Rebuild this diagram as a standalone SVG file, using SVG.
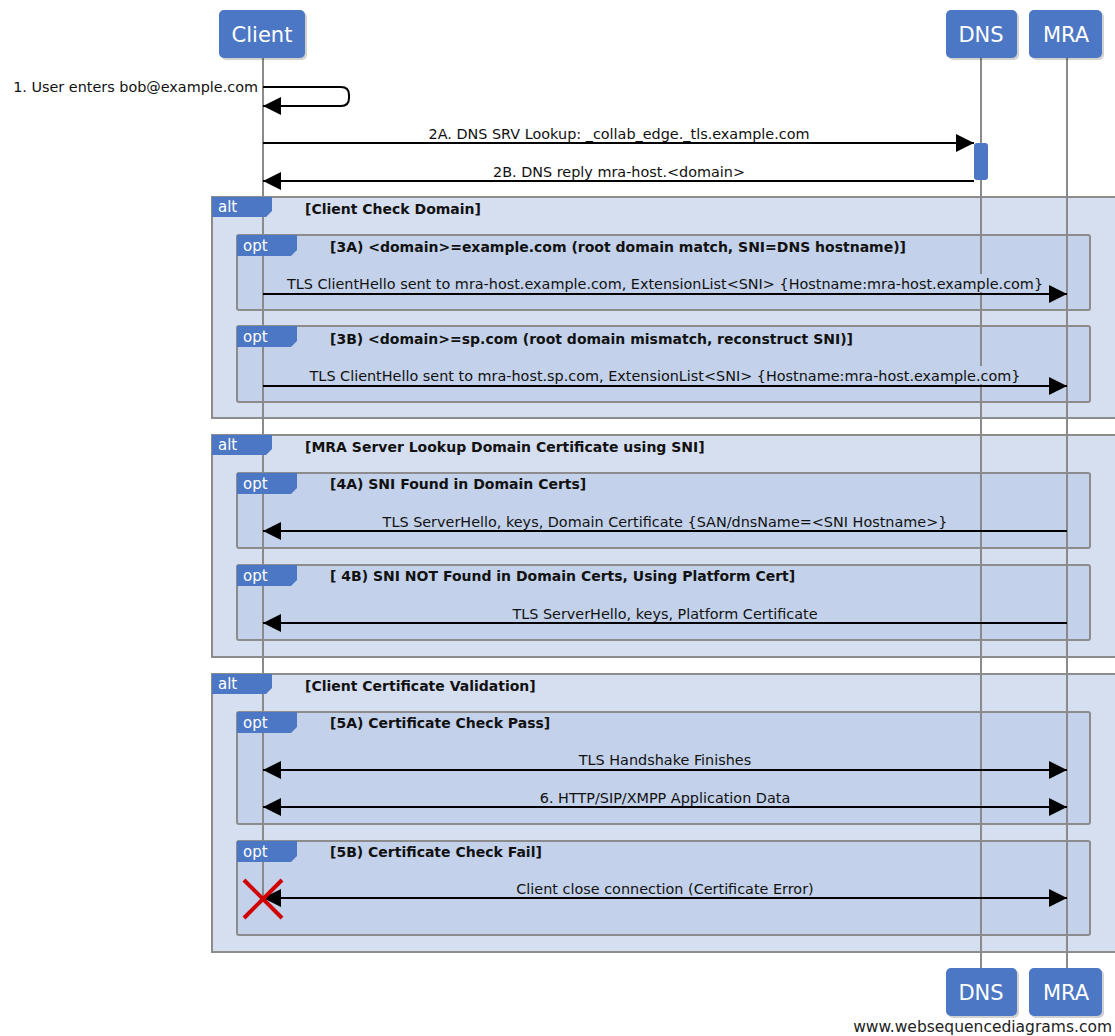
<svg xmlns="http://www.w3.org/2000/svg" width="1115" height="1036" viewBox="0 0 1115 1036">
<defs>
<style>
.pbox{fill:#4c77c4;}
.pshadow{fill:#000;opacity:0.18;}
.ptxt{font-family:"DejaVu Sans",sans-serif;font-size:21px;fill:#fff;text-anchor:middle;}
.life{stroke:#8a8a8a;stroke-width:2;fill:none;}
.alt{fill:#d6dff0;stroke:#8c8c8c;stroke-width:2;}
.opt{fill:#c3d2ea;stroke:#8c8c8c;stroke-width:2;}
.tab{fill:#4c77c4;}
.tabtxt{font-family:"DejaVu Sans",sans-serif;font-size:15px;fill:#fff;}
.guard{font-family:"DejaVu Sans",sans-serif;font-size:14px;font-weight:bold;fill:#111;}
.msg{font-family:"DejaVu Sans",sans-serif;font-size:14.4px;fill:#111;text-anchor:middle;}
.line{stroke:#000;stroke-width:2;fill:none;}
.wm{font-family:"DejaVu Sans",sans-serif;font-size:15.5px;fill:#222;}
</style>
<marker id="ah" markerUnits="userSpaceOnUse" markerWidth="18" markerHeight="18" refX="16" refY="8" orient="auto-start-reverse" viewBox="0 0 16 16">
<path d="M0,0 L16,8 L0,16 Z" fill="#000"/>
</marker>
</defs>

<!-- frames -->
<g id="frames">
<rect class="alt" x="212" y="197" width="910" height="221"/>
<rect class="opt" x="237" y="235" width="853" height="75" rx="2"/>
<rect class="opt" x="237" y="326" width="853" height="76" rx="2"/>
<rect class="alt" x="212" y="435" width="910" height="222"/>
<rect class="opt" x="237" y="473" width="853" height="75" rx="2"/>
<rect class="opt" x="237" y="565" width="853" height="75" rx="2"/>
<rect class="alt" x="212" y="674" width="910" height="278"/>
<rect class="opt" x="237" y="712" width="853" height="112" rx="2"/>
<rect class="opt" x="237" y="841" width="853" height="94" rx="2"/>
</g>

<!-- lifelines -->
<g id="lifelines">
<line class="life" x1="263" y1="58" x2="263" y2="898"/>
<line class="life" x1="981" y1="58" x2="981" y2="968"/>
<line class="life" x1="1067" y1="58" x2="1067" y2="968"/>
</g>

<!-- frame tabs and guards -->
<g id="tabs">
<path class="tab" d="M212,197 H272 V211 L266,217 H212 Z"/>
<text class="tabtxt" x="218" y="212">alt</text>
<text class="guard" x="305" y="214">[Client Check Domain]</text>
<path class="tab" d="M237,235 H297 V250 L291,256 H237 Z"/>
<text class="tabtxt" x="243" y="251">opt</text>
<text class="guard" x="330" y="252">[3A) &lt;domain&gt;=example.com (root domain match, SNI=DNS hostname)]</text>
<path class="tab" d="M237,326 H297 V341 L291,347 H237 Z"/>
<text class="tabtxt" x="243" y="342">opt</text>
<text class="guard" x="330" y="344">[3B) &lt;domain&gt;=sp.com (root domain mismatch, reconstruct SNI)]</text>

<path class="tab" d="M212,435 H272 V449 L266,455 H212 Z"/>
<text class="tabtxt" x="218" y="450">alt</text>
<text class="guard" x="305" y="452">[MRA Server Lookup Domain Certificate using SNI]</text>
<path class="tab" d="M237,473 H297 V488 L291,494 H237 Z"/>
<text class="tabtxt" x="243" y="489">opt</text>
<text class="guard" x="330" y="489">[4A) SNI Found in Domain Certs]</text>
<path class="tab" d="M237,565 H297 V580 L291,586 H237 Z"/>
<text class="tabtxt" x="243" y="581">opt</text>
<text class="guard" x="330" y="581">[ 4B) SNI NOT Found in Domain Certs, Using Platform Cert]</text>

<path class="tab" d="M212,674 H272 V688 L266,694 H212 Z"/>
<text class="tabtxt" x="218" y="689">alt</text>
<text class="guard" x="305" y="691">[Client Certificate Validation]</text>
<path class="tab" d="M237,712 H297 V727 L291,733 H237 Z"/>
<text class="tabtxt" x="243" y="728">opt</text>
<text class="guard" x="330" y="728">[5A) Certificate Check Pass]</text>
<path class="tab" d="M237,841 H297 V856 L291,862 H237 Z"/>
<text class="tabtxt" x="243" y="857">opt</text>
<text class="guard" x="330" y="857">[5B) Certificate Check Fail]</text>
</g>

<!-- participants -->
<g id="client">
<rect class="pshadow" x="221" y="12" width="86" height="48" rx="5"/>
<rect class="pbox" x="219" y="10" width="86" height="48" rx="5"/>
<text class="ptxt" x="262" y="42">Client</text>
</g>
<g id="dns">
<rect class="pshadow" x="948" y="12" width="71" height="48" rx="5"/>
<rect class="pbox" x="946" y="10" width="71" height="48" rx="5"/>
<text class="ptxt" x="981" y="42">DNS</text>
</g>
<g id="mra">
<rect class="pshadow" x="1031" y="12" width="73" height="48" rx="5"/>
<rect class="pbox" x="1029" y="10" width="73" height="48" rx="5"/>
<text class="ptxt" x="1066" y="42">MRA</text>
</g>
<g id="dns-bottom">
<rect class="pshadow" x="948" y="970" width="71" height="48" rx="5"/>
<rect class="pbox" x="946" y="968" width="71" height="48" rx="5"/>
<text class="ptxt" x="981" y="1000">DNS</text>
</g>
<g id="mra-bottom">
<rect class="pshadow" x="1031" y="970" width="73" height="48" rx="5"/>
<rect class="pbox" x="1029" y="968" width="73" height="48" rx="5"/>
<text class="ptxt" x="1066" y="1000">MRA</text>
</g>
<g id="dns-activation">
<rect x="974" y="143" width="14" height="37" rx="3" fill="#4c77c4"/>
</g>

<!-- connectors -->
<g id="connectors">
<text class="msg" x="258" y="92" style="text-anchor:end">1. User enters bob@example.com</text>
<path class="line" d="M263,87 H341 Q349,87 349,95 V98 Q349,106 341,106 H263" marker-end="url(#ah)"/>

<text class="msg" x="619" y="139">2A. DNS SRV Lookup: _collab_edge._tls.example.com</text>
<line class="line" x1="263" y1="143" x2="974" y2="143" marker-end="url(#ah)"/>
<text class="msg" x="619" y="177">2B. DNS reply mra-host.&lt;domain&gt;</text>
<line class="line" x1="974" y1="181" x2="263" y2="181" marker-end="url(#ah)"/>

<rect x="285" y="274" width="762" height="18" fill="#c3d2ea"/>
<text class="msg" x="665" y="289">TLS ClientHello sent to mra-host.example.com, ExtensionList&lt;SNI&gt; {Hostname:mra-host.example.com}</text>
<line class="line" x1="263" y1="294" x2="1067" y2="294" marker-end="url(#ah)"/>

<rect x="306" y="366" width="718" height="18" fill="#c3d2ea"/>
<text class="msg" x="665" y="381">TLS ClientHello sent to mra-host.sp.com, ExtensionList&lt;SNI&gt; {Hostname:mra-host.example.com}</text>
<line class="line" x1="263" y1="386" x2="1067" y2="386" marker-end="url(#ah)"/>

<text class="msg" x="665" y="527">TLS ServerHello, keys, Domain Certificate {SAN/dnsName=&lt;SNI Hostname&gt;}</text>
<line class="line" x1="1067" y1="531" x2="263" y2="531" marker-end="url(#ah)"/>

<text class="msg" x="665" y="619">TLS ServerHello, keys, Platform Certificate</text>
<line class="line" x1="1067" y1="623" x2="263" y2="623" marker-end="url(#ah)"/>

<text class="msg" x="665" y="765">TLS Handshake Finishes</text>
<line class="line" x1="263" y1="770" x2="1067" y2="770" marker-start="url(#ah)" marker-end="url(#ah)"/>

<text class="msg" x="665" y="803">6. HTTP/SIP/XMPP Application Data</text>
<line class="line" x1="263" y1="807" x2="1067" y2="807" marker-start="url(#ah)" marker-end="url(#ah)"/>

<text class="msg" x="665" y="894">Client close connection (Certificate Error)</text>
<line class="line" x1="263" y1="898" x2="1067" y2="898" marker-start="url(#ah)" marker-end="url(#ah)"/>
</g>

<g id="destroy">
<line x1="244" y1="880" x2="282" y2="918" stroke="#d00000" stroke-width="4"/>
<line x1="282" y1="880" x2="244" y2="918" stroke="#d00000" stroke-width="4"/>
</g>

<text class="wm" x="1112" y="1032" style="text-anchor:end">www.websequencediagrams.com</text>
</svg>
